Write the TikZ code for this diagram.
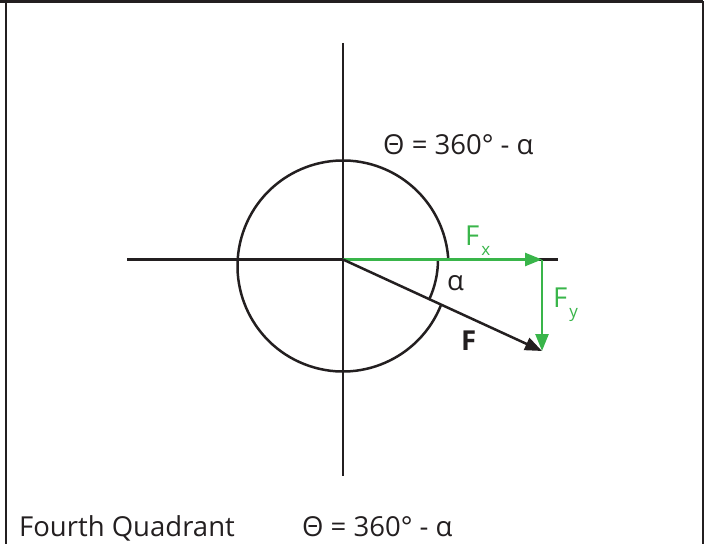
\documentclass[tikz,border=0pt]{standalone}
\usepackage{fontspec}
\setmainfont{Open Sans}
\usetikzlibrary{arrows.meta}
\definecolor{ink}{RGB}{35,31,32}
\definecolor{fgreen}{RGB}{57,181,74}
\tikzset{
  axisline/.style={draw=ink, line width=2.5bp},
  framestyle/.style={draw=ink, line width=2.8bp},
  forcearrow/.style={line width=2.5bp, -{Triangle[length=17bp,width=13bp]}},
  lbl/.style={anchor=base west, inner sep=0pt, text=ink, font=\fontsize{27.5bp}{30bp}\selectfont},
  glbl/.style={lbl, text=fgreen}
}
\begin{document}
\begin{tikzpicture}[x=1bp,y=-1bp]
\useasboundingbox (0,0) rectangle (707,544);
% frame
\coordinate (fbl) at (6,544);
\coordinate (ftl) at (6,1.5);
\coordinate (ftl0) at (0,1.5);
\coordinate (ftr) at (703,1.5);
\coordinate (fbr) at (703,544);
\draw[framestyle] (ftl0) -- (ftr);
\draw[framestyle] (fbl) -- (ftl);
\draw[framestyle] (ftr) -- (fbr);
% axes
\coordinate (O) at (343,259.5);
\coordinate (C) at (343,266);
\coordinate (xl) at (127,259.5);
\coordinate (xr) at (558,259.5);
\coordinate (yt) at (343,43);
\coordinate (yb) at (343,476);
\draw[axisline] (xl) -- (xr);
\draw[axisline] (yt) -- (yb);
% circle, broken between the x axis and the force F
\draw[axisline] ([shift={(C)}]21.46:105.5) arc[start angle=21.46, end angle=356.47, radius=105.5];
% angle alpha arc
\draw[axisline] ([shift={(O)}]0:95) arc[start angle=0, end angle=24.69, radius=95];
% forces
\coordinate (Fx) at (542,259.5);
\coordinate (Fe) at (542,351);
\draw[forcearrow, fgreen] (O) -- (Fx);
\draw[forcearrow, fgreen] (Fx) -- (Fe);
\draw[forcearrow, ink] (O) -- (Fe);
% labels
\node[lbl] (theta) at (383,155) {Θ = 360° - α};
\node[glbl] (fxl) at (465,246) {F\kern2bp\raisebox{-10bp}{\fontsize{17bp}{18bp}\selectfont x}};
\node[glbl] (fyl) at (553,307) {F\kern2bp\raisebox{-10bp}{\fontsize{17bp}{18bp}\selectfont y}};
\node[lbl] (alpha) at (447,290) {α};
\node[lbl] (fl) at (461,350) {\bfseries F};
\node[lbl] (quad) at (19,536) {Fourth Quadrant};
\node[lbl] (theta2) at (302,536) {Θ = 360° - α};
\end{tikzpicture}
\end{document}
